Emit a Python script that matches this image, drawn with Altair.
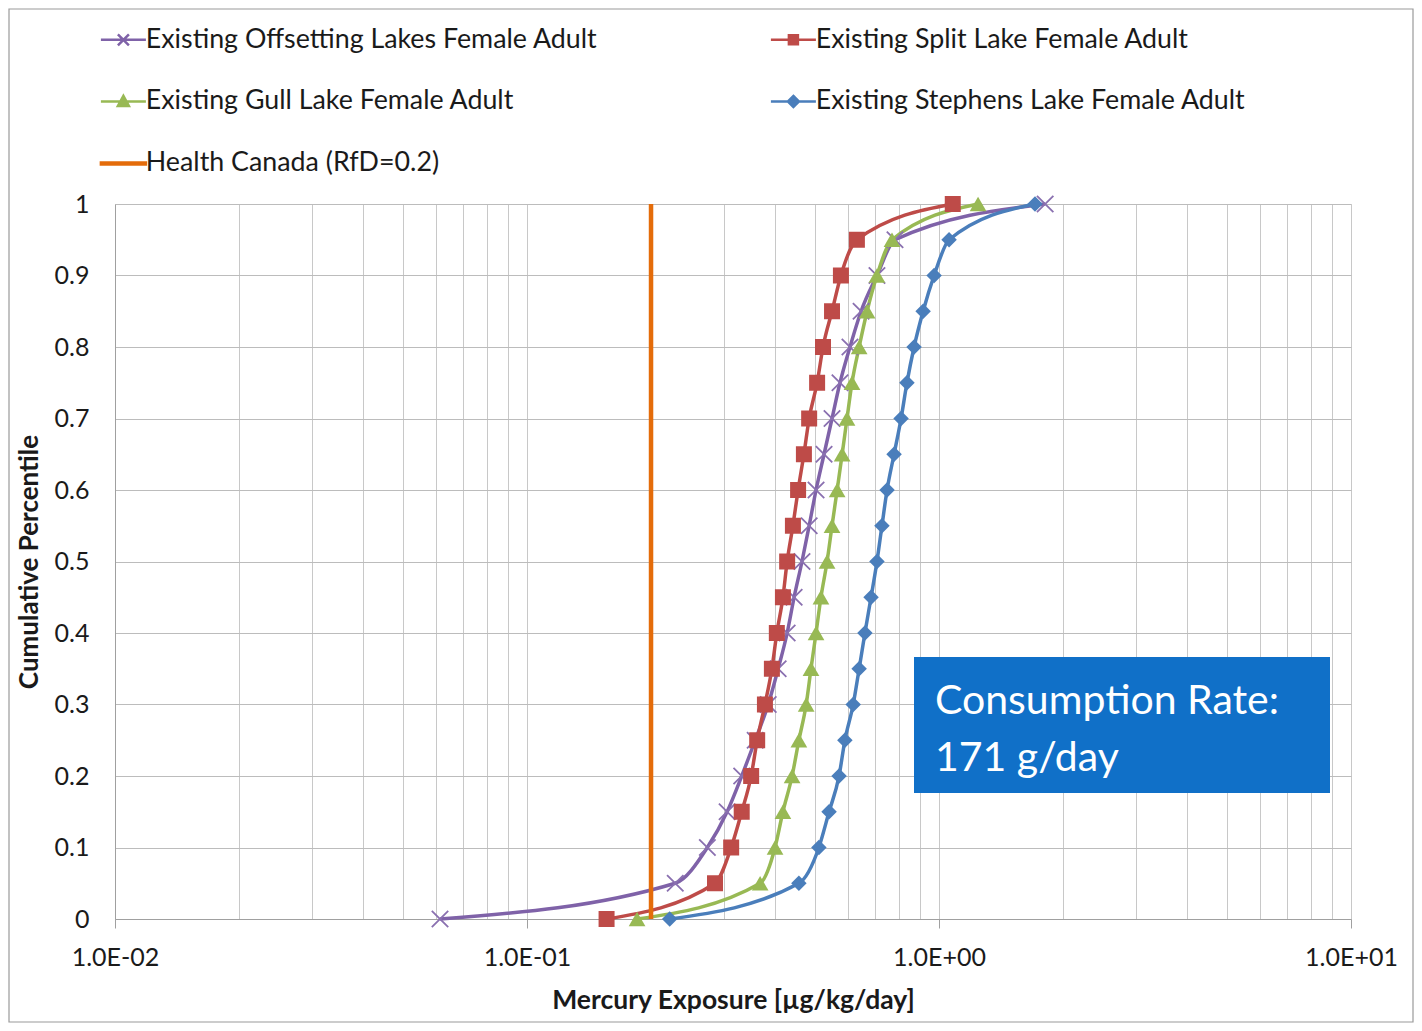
import altair as alt
import pandas as pd

# ---------------- data ----------------
percentiles = [0, 0.05, 0.1, 0.15, 0.2, 0.25, 0.3, 0.35, 0.4, 0.45, 0.5,
               0.55, 0.6, 0.65, 0.7, 0.75, 0.8, 0.85, 0.9, 0.95, 1.0]

offsetting = [0.0615, 0.229, 0.274, 0.306, 0.332, 0.358, 0.385, 0.407, 0.428, 0.445, 0.465,
              0.484, 0.503, 0.526, 0.550, 0.575, 0.608, 0.647, 0.707, 0.782, 1.81]
split = [0.156, 0.286, 0.313, 0.332, 0.350, 0.362, 0.378, 0.393, 0.404, 0.418, 0.428,
         0.442, 0.455, 0.470, 0.484, 0.506, 0.523, 0.550, 0.578, 0.632, 1.08]
gull = [0.185, 0.368, 0.400, 0.418, 0.440, 0.457, 0.476, 0.489, 0.503, 0.517, 0.535,
        0.550, 0.566, 0.582, 0.598, 0.615, 0.640, 0.669, 0.707, 0.769, 1.244]
stephens = [0.222, 0.457, 0.511, 0.541, 0.572, 0.591, 0.619, 0.640, 0.661, 0.684, 0.707,
            0.727, 0.748, 0.778, 0.809, 0.836, 0.870, 0.915, 0.973, 1.058, 1.71]

health_canada_rfd = 0.2

series_names = ["Existing Offsetting Lakes Female Adult",
                "Existing Split Lake Female Adult",
                "Existing Gull Lake Female Adult",
                "Existing Stephens Lake Female Adult"]
hc_name = "Health Canada (RfD=0.2)"

series_colors = ["#7F62A8", "#BE4B48", "#98B954", "#4A7EBB"]
hc_color = "#E46C0A"
x_title = "Mercury Exposure [µg/kg/day]"
y_title = "Cumulative Percentile"
note_lines = ["Consumption Rate:", "171 g/day"]

# ---------------- tables ----------------
all_series = [offsetting, split, gull, stephens]
rows = []
for name, vals in zip(series_names, all_series):
    for p, v in zip(percentiles, vals):
        rows.append({"series": name, "x": v, "p": p})
df = pd.DataFrame(rows)

grid_vals = []
for e in (-2, -1, 0):
    for m in range(1, 10):
        grid_vals.append(round(m * 10 ** e, 6))
grid_vals.append(10)

FONT = "Lato"
decade_test = "abs(log(datum.value)/LN10 - round(log(datum.value)/LN10)) < 0.001"
label_expr = ("(" + decade_test + ") ? ('1.0E' + (round(log(datum.value)/LN10) < 0 ? '-' : '+') + "
              "pad(toString(abs(round(log(datum.value)/LN10))), 2, '0', 'left')) : ''")

x_scale = alt.Scale(type="log", domain=[0.01, 10], nice=False)
y_scale = alt.Scale(domain=[0, 1], nice=False)

x_axis = alt.Axis(values=grid_vals, labelExpr=label_expr, labelOverlap=False, labelFlush=False,
                  grid=True, gridColor="#c8c8c8", gridWidth=1,
                  tickSize=9, tickColor="#a0a0a0",
                  tickOpacity={"condition": {"test": decade_test, "value": 1}, "value": 0},
                  domainColor="#a0a0a0", labelFont=FONT, labelFontSize=25, labelColor="#1a1a1a",
                  labelPadding=17, title=x_title, titleFont=FONT, titleFontSize=26.5,
                  titleFontWeight="bold", titleColor="#1a1a1a", titlePadding=17)
y_axis = alt.Axis(values=[round(i / 10, 1) for i in range(11)], format="~g", grid=True,
                  gridColor="#bcbcbc", ticks=False, domainColor="#a0a0a0",
                  labelFont=FONT, labelFontSize=25, labelColor="#1a1a1a", labelPadding=26,
                  title=y_title, titleFont=FONT, titleFontSize=26, titleFontWeight="bold",
                  titleColor="#1a1a1a", titlePadding=12)

base = alt.Chart(df)

lines = base.mark_line(interpolate="monotone", strokeWidth=3.5).encode(
    x=alt.X("x:Q", scale=x_scale, axis=x_axis),
    y=alt.Y("p:Q", scale=y_scale, axis=y_axis),
    color=alt.Color("series:N", scale=alt.Scale(domain=series_names, range=series_colors), legend=None),
    detail="series:N",
)

xy = dict(x=alt.X("x:Q", scale=x_scale), y=alt.Y("p:Q", scale=y_scale))
pts_x = base.transform_filter(alt.datum.series == series_names[0]).mark_point(
    shape="M-1,-1L1,1M-1,1L1,-1", filled=False, color="#8a70b0", strokeWidth=1.8, size=270, opacity=1
).encode(**xy)
pts_sq = base.transform_filter(alt.datum.series == series_names[1]).mark_point(
    shape="square", filled=True, color=series_colors[1], size=256, opacity=1).encode(**xy)
pts_tri = base.transform_filter(alt.datum.series == series_names[2]).mark_point(
    shape="triangle-up", filled=True, color=series_colors[2], size=280, opacity=1).encode(**xy)
pts_dia = base.transform_filter(alt.datum.series == series_names[3]).mark_point(
    shape="diamond", filled=True, color=series_colors[3], size=240, opacity=1).encode(**xy)

hc = alt.Chart(pd.DataFrame({"x": [health_canada_rfd]})).mark_rule(
    color=hc_color, strokeWidth=4.5).encode(
    x=alt.X("x:Q", scale=x_scale), y=alt.datum(0), y2=alt.datum(1))

# legend layer (legend only; the legend grid fills column by column)
path_x = "M-4.5,0L4.5,0M-1.1,-1.1L1.1,1.1M-1.1,1.1L1.1,-1.1"
path_sq = "M-4.5,0L4.5,0M-0.9,-0.9L0.9,-0.9L0.9,0.9L-0.9,0.9Z"
path_tri = "M-4.5,0L4.5,0M0,-1.1L1.1,0.9L-1.1,0.9Z"
path_dia = "M-4.5,0L4.5,0M0,-1.1L1.1,0L0,1.1L-1.1,0Z"
path_hc = "M-4.5,-0.2L4.5,-0.2L4.5,0.2L-4.5,0.2Z"
legend_order = [series_names[0], series_names[2], hc_name, series_names[1], series_names[3]]
legend_paths = [path_x, path_tri, path_hc, path_sq, path_dia]
legend_colors = [series_colors[0], series_colors[2], hc_color, series_colors[1], series_colors[3]]
legend_df = pd.DataFrame({"entry": legend_order, "x": [1] * 5, "p": [0.5] * 5})
lg = alt.Legend(title=None, orient="none", legendX=-5, legendY=-178, columns=2,
                columnPadding=167, rowPadding=34, symbolSize=100, symbolStrokeWidth=2.5,
                labelFont=FONT, labelFontSize=26.8, labelColor="#1a1a1a", labelOffset=9,
                labelLimit=1000, symbolOpacity=1)
legend_layer = alt.Chart(legend_df).transform_filter("false").mark_point(
    filled=True, size=100, strokeWidth=2.5).encode(
    x=alt.X("x:Q", scale=x_scale), y=alt.Y("p:Q", scale=y_scale),
    fill=alt.Fill("entry:N", scale=alt.Scale(domain=legend_order, range=legend_colors), legend=lg),
    stroke=alt.Stroke("entry:N", scale=alt.Scale(domain=legend_order, range=legend_colors), legend=lg),
    shape=alt.Shape("entry:N", scale=alt.Scale(domain=legend_order, range=legend_paths), legend=lg),
)

one = pd.DataFrame({"a": [0]})
frame = alt.Chart(one).mark_rect(fill="white", fillOpacity=0, stroke="#9a9a9a", strokeWidth=1.2).encode(
    x=alt.value(-106), x2=alt.value(1298), y=alt.value(-195), y2=alt.value(818))
box = alt.Chart(one).mark_rect(color="#1070C8").encode(
    x=alt.value(799), x2=alt.value(1215), y=alt.value(453), y2=alt.value(589))
box_text = alt.Chart(one).mark_text(align="left", baseline="alphabetic", color="white",
                                    font=FONT, fontSize=41, lineHeight=57).encode(
    x=alt.value(820), y=alt.value(510), text=alt.value(note_lines))

chart = alt.layer(frame, lines, pts_x, pts_sq, pts_tri, pts_dia, hc, box, box_text, legend_layer).properties(
    width=1236, height=715,
    padding={"left": 107, "top": 196, "right": 63, "bottom": 104},
    autosize=alt.AutoSizeParams(type="none"),
).configure_view(stroke=None).configure(background="white")

chart.save("out.html", embed_options={"renderer": "svg", "actions": False})
